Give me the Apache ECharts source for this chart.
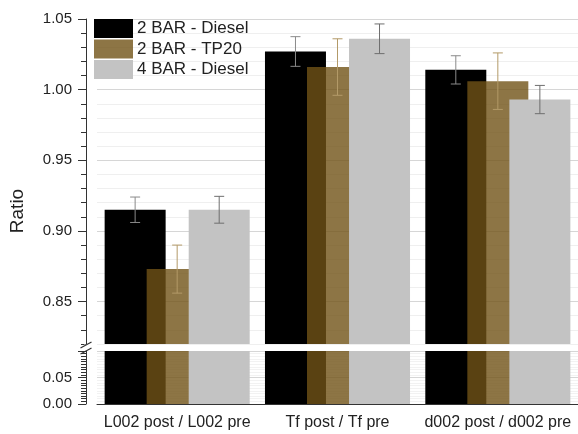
<!DOCTYPE html>
<html>
<head>
<meta charset="utf-8">
<script src="https://cdn.jsdelivr.net/npm/echarts@6/dist/echarts.min.js"></script>
<style>
html,body{margin:0;padding:0;background:#fff;}
#chart{width:578px;height:434px;}
</style>
</head>
<body>
<div id="chart"></div>
<script>
// ---- data ----
const categories = ['L002 post / L002 pre', 'Tf post / Tf pre', 'd002 post / d002 pre'];
const seriesNames = ['2 BAR - Diesel', '2 BAR - TP20', '4 BAR - Diesel'];
const diesel2 = [0.915, 1.027, 1.014];
const tp20 = [0.873, 1.016, 1.006];
const diesel4 = [0.915, 1.036, 0.993];
const errDiesel2 = [0.009, 0.0105, 0.010];
const errTp20 = [0.017, 0.020, 0.020];
const errDiesel4 = [0.0095, 0.0105, 0.010];
const upperTickLabels = [0.85, 0.90, 0.95, 1.00, 1.05];
const lowerTickLabels = [0.00, 0.05];

// ---- style / layout ----
const FONT = "'Liberation Sans', Arial, sans-serif";
const BAR_W = 61;
const BAR_GAP = -0.311;
const STEP = BAR_W * (1 + BAR_GAP);
const colors = ['#000000', 'rgba(112,82,22,0.8)', '#c3c3c3'];
const errColors = ['#8a8a8a', '#b39a68', '#6e6e6e'];
const values = [diesel2, tp20, diesel4];
const errs = [errDiesel2, errTp20, errDiesel4];

const chart = echarts.init(document.getElementById('chart'), null, {renderer: 'canvas'});

const series = [];
// upper bars
values.forEach((vals, i) => {
  series.push({
    type: 'bar', name: seriesNames[i], xAxisIndex: 0, yAxisIndex: 0,
    data: vals, barWidth: BAR_W, barGap: (BAR_GAP * 100) + '%',
    itemStyle: {color: colors[i]}, clip: true, z: 2, silent: true
  });
});
// lower bars
values.forEach((vals, i) => {
  series.push({
    type: 'bar', name: seriesNames[i], xAxisIndex: 1, yAxisIndex: 2,
    data: vals, barWidth: BAR_W, barGap: (BAR_GAP * 100) + '%',
    itemStyle: {color: colors[i]}, clip: true, z: 2, silent: true
  });
});
// error bars
values.forEach((vals, i) => {
  const off = (i - 1) * STEP;
  series.push({
    type: 'custom', name: 'err' + i, xAxisIndex: 0, yAxisIndex: 0, z: 5, silent: true,
    encode: {x: 0, y: [1, 2]},
    data: vals.map((v, k) => [k, v - errs[i][k], v + errs[i][k]]),
    renderItem: function (params, api) {
      const lo = api.coord([api.value(0), api.value(1)]);
      const hi = api.coord([api.value(0), api.value(2)]);
      const x = lo[0] + off;
      const cap = 5;
      const st = {stroke: errColors[i], lineWidth: 1};
      return {
        type: 'group',
        children: [
          {type: 'line', shape: {x1: x, y1: lo[1], x2: x, y2: hi[1]}, style: st},
          {type: 'line', shape: {x1: x - cap, y1: lo[1], x2: x + cap, y2: lo[1]}, style: st},
          {type: 'line', shape: {x1: x - cap, y1: hi[1], x2: x + cap, y2: hi[1]}, style: st}
        ]
      };
    }
  });
});

const isIn = (arr, v) => arr.some(t => Math.abs(t - v) < 1e-6);

const option = {
  backgroundColor: '#fff',
  animation: false,
  textStyle: {fontFamily: FONT},
  legend: {
    data: seriesNames,
    orient: 'vertical', left: 94, top: 19, padding: 0,
    itemWidth: 39, itemHeight: 19, itemGap: 1.5,
    icon: 'rect', selectedMode: false,
    textStyle: {fontSize: 17, color: '#222', fontFamily: FONT, padding: [0, 0, 0, -1]}
  },
  grid: [
    {left: 97, top: 19, width: 481.5, height: 325},
    {left: 97, top: 351, width: 481.5, height: 53}
  ],
  xAxis: [
    {gridIndex: 0, type: 'category', data: categories, show: false},
    {gridIndex: 1, type: 'category', data: categories,
     axisLine: {lineStyle: {color: '#333', width: 1}},
     axisTick: {alignWithLabel: true, length: 7, lineStyle: {color: '#333'}},
     axisLabel: {fontSize: 16, color: '#222', margin: 11, interval: 0, fontFamily: FONT},
     splitLine: {show: false}}
  ],
  yAxis: [
    // upper fine axis (0.01 ticks)
    {gridIndex: 0, type: 'value', position: 'left', offset: 11,
     min: 0.82, max: 1.05, interval: 0.01,
     axisLine: {show: true, lineStyle: {color: '#333'}},
     axisTick: {show: true, length: 5, lineStyle: {color: '#333'}},
     axisLabel: {show: false},
     splitLine: {show: true, lineStyle: {color: '#efefef', width: 1}}},
    // upper major axis (labels)
    {gridIndex: 0, type: 'value', position: 'left', offset: 11,
     min: 0.82, max: 1.05, splitNumber: 5,
     axisLine: {show: false},
     axisTick: {show: true, length: 8, lineStyle: {color: '#333'}, customValues: upperTickLabels},
     axisLabel: {show: true, fontSize: 15, color: '#222', margin: 14, fontFamily: FONT,
                 customValues: upperTickLabels,
                 formatter: v => v.toFixed(2)},
     splitLine: {show: true, lineStyle: {color: '#d6d6d6', width: 1}}},
    // lower axis
    {gridIndex: 1, type: 'value', position: 'left', offset: 11,
     min: 0, max: 0.1, interval: 0.05,
     axisLine: {show: true, lineStyle: {color: '#333'}},
     axisTick: {show: true, length: 8, lineStyle: {color: '#333'}},
     minorTick: {show: true, splitNumber: 10, length: 5, lineStyle: {color: '#333'}},
     axisLabel: {show: true, fontSize: 15, color: '#222', margin: 14, fontFamily: FONT,
                 formatter: v => isIn(lowerTickLabels, v) ? v.toFixed(2) : ''},
     splitLine: {show: true, lineStyle: {color: '#d6d6d6', width: 1}},
     minorSplitLine: {show: true, lineStyle: {color: '#f2f2f2', width: 1}}}
  ],
  graphic: [
    {type: 'text', x: 17.5, y: 211, rotation: Math.PI / 2,
     style: {text: 'Ratio', font: "19px 'Liberation Sans', Arial, sans-serif", fill: '#222',
             align: 'center', verticalAlign: 'middle'}},
    {type: 'rect', shape: {x: 84, y: 344.5, width: 5, height: 6}, style: {fill: '#fff'}, z: 100},
    {type: 'line', shape: {x1: 80.5, y1: 348, x2: 91.5, y2: 342}, style: {stroke: '#333', lineWidth: 1.2}, z: 101},
    {type: 'line', shape: {x1: 80.5, y1: 354, x2: 91.5, y2: 348}, style: {stroke: '#333', lineWidth: 1.2}, z: 101}
  ],
  series: series
};
chart.setOption(option);
</script>
</body>
</html>
